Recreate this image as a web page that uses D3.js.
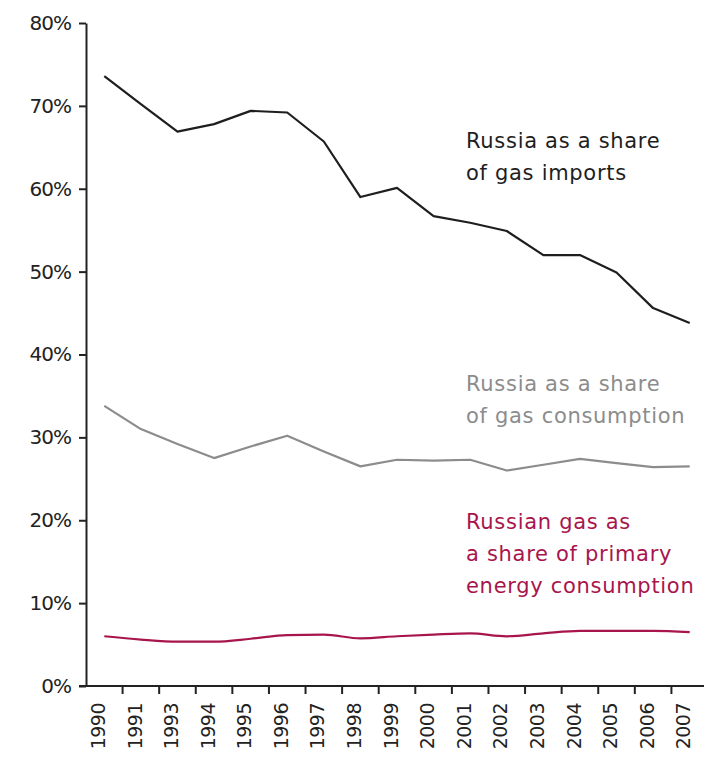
<!DOCTYPE html>
<html>
    <head>
        <script src="https://d3js.org/d3.v7.min.js"></script>
        <style>
            body { margin: 0; background: #fff; }
            text { font-family: "DejaVu Sans", sans-serif; }
        </style>
    </head>
    <body>
        <div id="chart"></div>
        <script>
            // years shown on the axis (1992 is not in the source)
            const years = ["1990","1991","1993","1994","1995","1996","1997","1998","1999","2000","2001","2002","2003","2004","2005","2006","2007"]
            const shareOfImports = [73.6,70.2,66.9,67.8,69.4,69.2,65.7,59.0,60.1,56.7,55.9,54.9,52.0,52.0,49.9,45.6,43.8]
            const shareOfConsumption = [33.8,31.0,29.2,27.5,28.9,30.2,28.3,26.5,27.3,27.2,27.3,26.0,26.7,27.4,26.9,26.4,26.5]
            const shareOfPrimary = [6.0,5.6,5.35,5.35,5.7,6.15,6.2,5.75,6.0,6.2,6.35,6.0,6.35,6.65,6.65,6.65,6.5]
            const yTicks = [0,10,20,30,40,50,60,70,80]

            width = 704
            height = 757
            margin = ({top: 23, right: -4, bottom: 71, left: 86})

            const series = [
                {values: shareOfImports, color: "#1e1e1e", curve: d3.curveLinear,
                 label: ["Russia as a share", "of gas imports"], lx: 466, ly: 148},
                {values: shareOfConsumption, color: "#8c8c8c", curve: d3.curveLinear,
                 label: ["Russia as a share", "of gas consumption"], lx: 466, ly: 391},
                {values: shareOfPrimary, color: "#a8154c", curve: d3.curveMonotoneX,
                 label: ["Russian gas as", "a share of primary", "energy consumption"], lx: 466, ly: 529}
            ]

            x = d3.scaleBand(years, [margin.left, width - margin.right])
            y = d3.scaleLinear([0, 80], [height - margin.bottom, margin.top])

            const svg = d3.select("#chart")
                .append("svg")
                .attr("width", width)
                .attr("height", height)

            // y axis
            svg.append("g")
                .attr("transform", `translate(${margin.left},0)`)
                .call(d3.axisLeft(y).tickValues(yTicks).tickFormat(d => d + "%").tickSize(7).tickSizeOuter(0).tickPadding(8))
                .call(g => g.select(".domain").attr("stroke", "#222").attr("stroke-width", 2))
                .call(g => g.selectAll(".tick line").attr("stroke", "#222").attr("stroke-width", 2))
                .call(g => g.selectAll(".tick text").attr("font-size", 20).attr("fill", "#222").attr("letter-spacing", -1))

            // x axis, ticks sit between the bands
            const bw = x.bandwidth()
            svg.append("g")
                .attr("transform", `translate(0,${height - margin.bottom})`)
                .call(d3.axisBottom(x).tickSize(8).tickSizeOuter(0).tickPadding(0))
                .call(g => g.select(".domain").attr("stroke", "#222").attr("stroke-width", 2).attr("d", `M${margin.left - 7},0H${width}`))
                .call(g => g.selectAll(".tick line").attr("stroke", "#222").attr("stroke-width", 2)
                    .attr("transform", `translate(${-bw / 2},0)`)
                    .attr("display", (d, i) => i === 0 ? "none" : null))
                .call(g => g.selectAll(".tick text")
                    .attr("font-size", 19).attr("fill", "#222")
                    .attr("letter-spacing", -0.5)
                    .attr("text-anchor", "end")
                    .attr("transform", "translate(-6,17) rotate(-90)")
                    .attr("x", 0).attr("y", 0).attr("dy", "0.35em"))

            const line = (s) => d3.line()
                .x((d, i) => x(years[i]) + bw / 2)
                .y(d => y(d))
                .curve(s.curve)

            svg.append("g")
                .selectAll("path")
                .data(series)
                .join("path")
                .attr("fill", "none")
                .attr("stroke", d => d.color)
                .attr("stroke-width", 2.2)
                .attr("stroke-linejoin", "round")
                .attr("d", d => line(d)(d.values))

            // direct labels
            svg.append("g")
                .selectAll("text")
                .data(series)
                .join("text")
                .attr("fill", d => d.color)
                .attr("font-size", 21)
                .attr("letter-spacing", 0.7)
                .attr("x", d => d.lx)
                .attr("y", d => d.ly)
                .selectAll("tspan")
                .data(d => d.label.map((t, i) => ({t, i, lx: d.lx})))
                .join("tspan")
                .attr("x", d => d.lx)
                .attr("dy", d => d.i === 0 ? 0 : 32)
                .text(d => d.t)
        </script>
    </body>
</html>
